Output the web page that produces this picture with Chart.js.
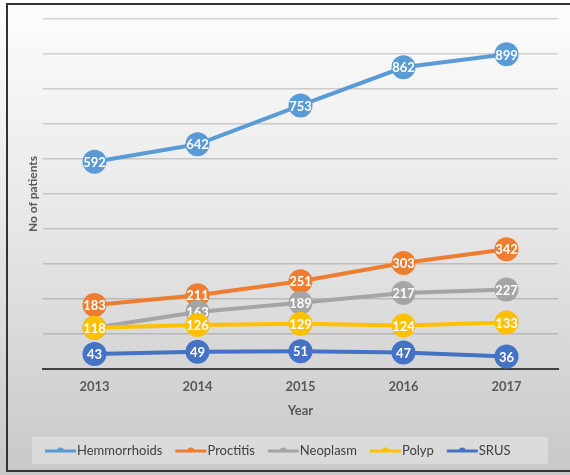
<!DOCTYPE html>
<html>
<head>
<meta charset="utf-8">
<title>Patients per year</title>
<script src="https://cdn.jsdelivr.net/npm/chart.js@4.4.0/dist/chart.umd.min.js"></script>
<style>
    html, body { margin: 0; padding: 0; background: #ffffff; }
    #wrap { width: 570px; height: 475px; position: relative; }
</style>
</head>
<body>
<div id="wrap"><canvas id="patientsChart" width="570" height="475"></canvas></div>
<script>
// Chart data
const years = ['2013', '2014', '2015', '2016', '2017'];
const hemmorrhoids = [592, 642, 753, 862, 899];
const proctitis = [183, 211, 251, 303, 342];
const neoplasm = [118, 163, 189, 217, 227];
const polyp = [118, 126, 129, 124, 133];
const srus = [43, 49, 51, 47, 36];
const seriesNames = ['Hemmorrhoids', 'Proctitis', 'Neoplasm', 'Polyp', 'SRUS'];
const seriesColors = ['#5B9BD5', '#ED7D31', '#A5A5A5', '#FFC000', '#4472C4'];
const yMin = 0;
const yMax = 1000;
const yStep = 100;

const FONT = 'Lato, "Open Sans", sans-serif';

// Background, frame and legend drawn around the plot
const backgroundPlugin = {
    id: 'excelBackground',
    beforeDraw(chart) {
        const ctx = chart.ctx;
        const w = chart.width, h = chart.height;
        ctx.save();
        const grad = ctx.createLinearGradient(0, 0, 0, h);
        grad.addColorStop(0, '#fdfdfd');
        grad.addColorStop(0.45, '#e8e8e8');
        grad.addColorStop(1, '#c8c8c8');
        ctx.fillStyle = grad;
        ctx.fillRect(0, 0, w, h);

        ctx.strokeStyle = '#333333';
        ctx.lineWidth = 2;
        ctx.beginPath();
        ctx.moveTo(w, 4);
        ctx.lineTo(7, 4);
        ctx.lineTo(7, 471);
        ctx.lineTo(w, 471);
        ctx.stroke();
        ctx.restore();
    },
    afterDraw(chart) {
        const ctx = chart.ctx;
        ctx.save();
        // legend box
        ctx.fillStyle = 'rgba(255,255,255,0.3)';
        ctx.fillRect(32, 437, 516, 27);

        ctx.font = '13px ' + FONT;
        ctx.textBaseline = 'middle';
        ctx.textAlign = 'left';
        const cy = 451;
        let x = 45;
        chart.data.datasets.forEach(function(ds) {
            ctx.strokeStyle = ds.borderColor;
            ctx.fillStyle = ds.borderColor;
            ctx.lineWidth = 3;
            ctx.beginPath();
            ctx.moveTo(x, cy);
            ctx.lineTo(x + 31, cy);
            ctx.stroke();
            ctx.beginPath();
            ctx.arc(x + 15.5, cy, 3.5, Math.PI, 0);
            ctx.fill();
            ctx.fillStyle = '#404040';
            ctx.fillText(ds.label, x + 32, cy);
            x += 32 + ctx.measureText(ds.label).width + 13;
        });
        ctx.restore();
    }
};

// Value labels drawn inside each marker
const valueLabelPlugin = {
    id: 'valueLabels',
    afterDatasetDraw(chart, args) {
        const ctx = chart.ctx;
        const meta = args.meta;
        const ds = chart.data.datasets[args.index];
        ctx.save();
        ctx.font = 'bold 13px ' + FONT;
        ctx.fillStyle = '#ffffff';
        ctx.textAlign = 'center';
        ctx.textBaseline = 'middle';
        meta.data.forEach(function(pt, i) {
            ctx.fillText(String(ds.data[i]), pt.x, pt.y + 1);
        });
        ctx.restore();
    }
};

const seriesData = [hemmorrhoids, proctitis, neoplasm, polyp, srus];

const datasets = seriesNames.map(function(name, i) {
    return {
        label: name,
        data: seriesData[i],
        borderColor: seriesColors[i],
        backgroundColor: seriesColors[i],
        borderWidth: 4,
        pointRadius: 12,
        pointHoverRadius: 12,
        pointBorderWidth: 0,
        pointBackgroundColor: seriesColors[i],
        tension: 0,
        order: seriesNames.length - i
    };
});

new Chart(document.getElementById('patientsChart'), {
    type: 'line',
    data: {
        labels: years,
        datasets: datasets
    },
    options: {
        responsive: false,
        animation: false,
        layout: {
            padding: { top: 19, right: 11, bottom: 0, left: 0 }
        },
        plugins: {
            legend: { display: false },
            tooltip: { enabled: false }
        },
        scales: {
            x: {
                offset: true,
                grid: { display: false, drawTicks: false },
                border: { display: true, color: '#404040', width: 2 },
                ticks: {
                    color: '#595959',
                    font: { family: FONT, size: 13, weight: 'bold' },
                    padding: 10
                },
                title: {
                    display: true,
                    text: 'Year',
                    color: '#595959',
                    font: { family: FONT, size: 13, weight: 'bold' },
                    padding: { top: 0, bottom: 56 }
                },
                afterFit: function(scale) { scale.height = 106; }
            },
            y: {
                min: yMin,
                max: yMax,
                ticks: { display: false, stepSize: yStep },
                grid: { color: 'rgba(0,0,0,0.16)', lineWidth: 1.5, drawTicks: false },
                border: { display: false },
                title: {
                    display: true,
                    text: 'No of patients',
                    color: '#595959',
                    font: { family: FONT, size: 12, weight: 'bold' },
                    padding: { top: 26, bottom: 0 }
                },
                afterFit: function(scale) { scale.width = 43; }
            }
        }
    },
    plugins: [backgroundPlugin, valueLabelPlugin]
});
</script>
</body>
</html>
